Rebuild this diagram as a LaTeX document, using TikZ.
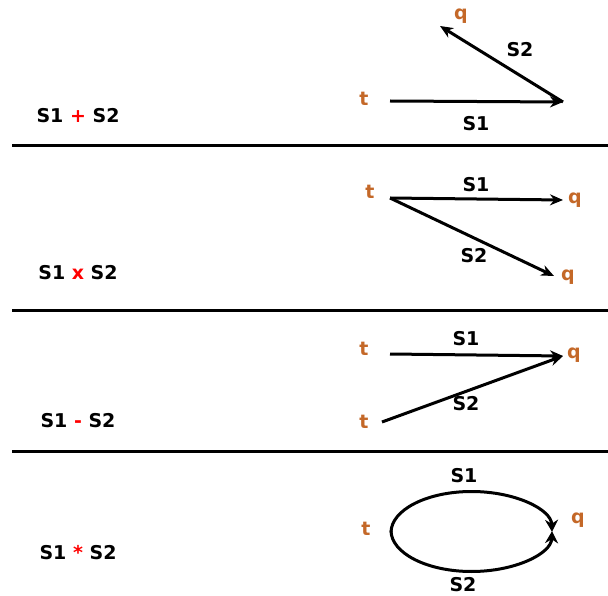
\documentclass[tikz,border=0pt]{standalone}
\usepackage{fontspec}
\setmainfont{DejaVu Sans}
\usetikzlibrary{arrows.meta}
\definecolor{orng}{RGB}{196,104,40}
\tikzset{
  lbl/.style={font=\bfseries\fontsize{19}{21}\selectfont, inner sep=0pt, text=black},
  st/.style={font=\bfseries\fontsize{19}{21}\selectfont, inner sep=0pt, text=orng},
  arr/.style={line width=3pt, -{Stealth[length=13pt,width=11pt]}},
  looparr/.style={line width=3pt, -{Stealth[length=12pt,width=13pt]}},
  sep/.style={line width=3pt},
}
\begin{document}
\begin{tikzpicture}[x=1pt,y=-1pt]
\useasboundingbox (0,0) rectangle (608,596);
\fill[white] (0,0) rectangle (608,596);
% separators
\coordinate (h1a) at (12,146); \coordinate (h1b) at (608,146);
\coordinate (h2a) at (12,310); \coordinate (h2b) at (608,310);
\coordinate (h3a) at (12,451); \coordinate (h3b) at (608,451);
\draw[sep] (h1a) -- (h1b);
\draw[sep] (h2a) -- (h2b);
\draw[sep] (h3a) -- (h3b);
% left labels
\node[lbl] (e1) at (78,116) {S1 \textcolor{red}{+} S2};
\node[lbl] (e2) at (78,273) {S1 \textcolor{red}{x} S2};
\node[lbl] (e3) at (78,421) {S1 \textcolor{red}{-} S2};
\node[lbl] (e4) at (78,553) {S1 \textcolor{red}{*} S2};
% panel 1
\node[st] (t1) at (364,99) {t};
\node[st] (q1) at (461,16) {q};
\coordinate (p1s) at (390,101);
\coordinate (p1m) at (563,102);
\coordinate (p1e) at (440,26);
\draw[arr] (p1s) -- (p1m);
\draw[arr] (p1m) -- (p1e);
\node[lbl] (s11) at (476,124) {S1};
\node[lbl] (s12) at (520,50) {S2};
% panel 2
\node[st] (t2) at (370,192) {t};
\node[st] (q2a) at (575,200) {q};
\node[st] (q2b) at (568,277) {q};
\coordinate (p2s) at (390,198);
\coordinate (p2a) at (563,200);
\coordinate (p2b) at (554,276);
\draw[arr] (p2s) -- (p2a);
\draw[arr] (p2s) -- (p2b);
\node[lbl] (s21) at (476,185) {S1};
\node[lbl] (s22) at (474,256) {S2};
% panel 3
\node[st] (t3a) at (364,349) {t};
\node[st] (t3b) at (364,422) {t};
\node[st] (q3) at (574,355) {q};
\coordinate (p3a) at (390,354);
\coordinate (p3b) at (382,422);
\coordinate (p3e) at (563,356);
\draw[arr] (p3a) -- (p3e);
\draw[arr] (p3b) -- (p3e);
\node[lbl] (s31) at (466,339) {S1};
\node[lbl] (s32) at (466,404) {S2};
% panel 4
\node[st] (t4) at (366,529) {t};
\node[st] (q4) at (578,520) {q};
\coordinate (p4l) at (391,530.5);
\coordinate (p4l2) at (391,532.5);
\draw[looparr] (p4l) arc[start angle=180, end angle=1, x radius=80.5, y radius=41];
\draw[looparr] (p4l2) arc[start angle=180, end angle=359, x radius=80.5, y radius=41];
\node[lbl] (s41) at (464,476) {S1};
\node[lbl] (s42) at (463,585) {S2};
\end{tikzpicture}
\end{document}
